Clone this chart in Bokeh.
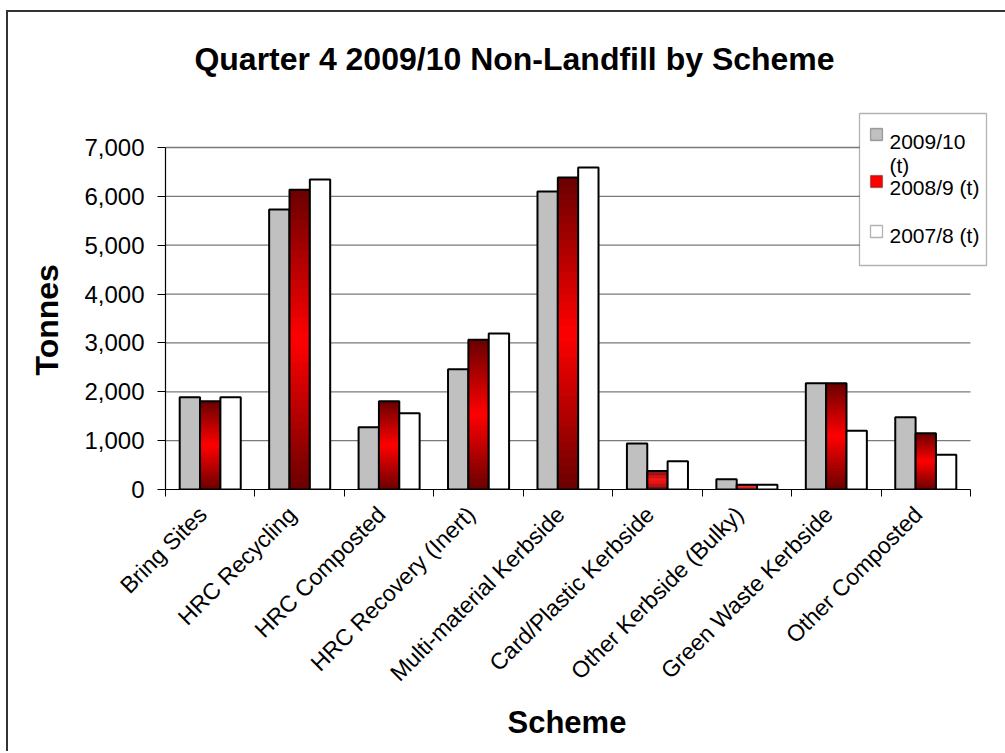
import math
from bokeh.plotting import figure
from bokeh.layouts import column
from bokeh.models import Range1d, FixedTicker, NumeralTickFormatter, BoxAnnotation, Label, Title
from bokeh.embed import file_html
from bokeh.resources import INLINE

# ---------------- data ----------------
categories = ["Bring Sites", "HRC Recycling", "HRC Composted", "HRC Recovery (Inert)",
              "Multi-material Kerbside", "Card/Plastic Kerbside", "Other Kerbside (Bulky)",
              "Green Waste Kerbside", "Other Composted"]
series_names = ["2009/10\n(t)", "2008/9 (t)", "2007/8 (t)"]
t_2009_10 = [1890, 5730, 1275, 2460, 6100, 940, 210, 2175, 1480]
t_2008_9 = [1805, 6135, 1805, 3065, 6385, 380, 95, 2175, 1150]
t_2007_8 = [1890, 6345, 1560, 3195, 6590, 580, 95, 1200, 710]
y_ticks = [0, 1000, 2000, 3000, 4000, 5000, 6000, 7000]
title_text = "Quarter 4 2009/10 Non-Landfill by Scheme"
y_title = "Tonnes"
x_title = "Scheme"

# ---------------- layout (page pixels) ----------------
OX, OY = 8, 12                 # canvas origin on the page (after css margin + border)
W, H = 997, 739
AX_L, AX_R, AX_T, AX_B = 165, 970, 147, 489   # axes extents on the page
NCAT = len(categories)
YMAX = 7000
FRAME_R = OX + W               # frame reaches the right edge of the canvas
FRAME_T = OY                   # and the top edge

def dx(px):
    return (px - AX_L) / (AX_R - AX_L) * NCAT

def dy(py):
    return (AX_B - py) / (AX_B - AX_T) * YMAX

FONT = "Liberation Sans"

p = figure(width=W, height=H, output_backend="svg", toolbar_location=None,
           x_range=Range1d(0, dx(FRAME_R)), y_range=Range1d(0, dy(FRAME_T)),
           min_border_left=AX_L - OX, min_border_top=0, min_border_right=0,
           min_border_bottom=H - (AX_B - OY))
p.outline_line_color = None
p.background_fill_color = "white"
p.border_fill_color = "white"
p.xgrid.visible = False
p.ygrid.visible = False

# gridlines (horizontal, only across the category span)
p.segment(x0=0, x1=NCAT, y0=y_ticks[1:], y1=y_ticks[1:], line_color="#7a7a7a", line_width=1.3)

# y axis
ya = p.yaxis[0]
ya.bounds = (0, YMAX)
ya.ticker = FixedTicker(ticks=y_ticks)
ya.formatter = NumeralTickFormatter(format="0,0")
ya.axis_line_color = "black"
ya.axis_line_width = 1.2
ya.major_tick_line_color = "black"
ya.major_tick_out = 8
ya.major_tick_in = 0
ya.minor_tick_line_color = None
ya.major_label_text_font = FONT
ya.major_label_text_font_size = "24px"
ya.major_label_text_color = "black"
ya.major_label_standoff = 13

# x axis
xa = p.xaxis[0]
xa.bounds = (0, NCAT)
centers = [i + 0.5 for i in range(NCAT)]
label_pos = [round(c - 0.085, 4) for c in centers]   # label anchors nudged to match the reference
xa.ticker = FixedTicker(ticks=label_pos, minor_ticks=list(range(NCAT + 1)))
xa.major_label_overrides = {c: name for c, name in zip(label_pos, categories)}
xa.major_tick_line_color = None
xa.major_tick_out = 0
xa.major_tick_in = 0
xa.minor_tick_line_color = "black"
xa.minor_tick_out = 7
xa.minor_tick_in = 0
xa.axis_line_color = "black"
xa.axis_line_width = 1.2
xa.major_label_orientation = math.pi / 4
xa.major_label_standoff = 14
xa.major_label_text_font = FONT
xa.major_label_text_font_size = "23px"
xa.major_label_text_color = "black"

# axis titles as side-panel titles (positioned along the axis span)
p.add_layout(Title(text=y_title, align="left", offset=AX_B - 375, vertical_align="top",
                   standoff=30, text_font=FONT, text_font_style="bold",
                   text_font_size="32px", text_color="black"), "left")
p.add_layout(Title(text=x_title, align="left", offset=507 - AX_L, vertical_align="top",
                   standoff=12, text_font=FONT, text_font_style="bold",
                   text_font_size="31px", text_color="black"), "below")

# ---------------- bars ----------------
bw = 0.2275
OUT = dict(line_color="black", line_width=2)

def lefts(k):
    return [c + (k - 1) * bw - bw / 2 for c in centers]

def rights(k):
    return [c + (k - 1) * bw + bw / 2 for c in centers]

# series 1: grey
p.quad(left=lefts(0), right=rights(0), bottom=0, top=t_2009_10, fill_color="#c0c0c0", **OUT)

# series 2: red vertical gradient (dark at both ends, bright red in the middle)
N = 40
dark = (105, 0, 0)
bright = (255, 0, 0)
gl, gr, gb, gt, gc = [], [], [], [], []
for l, r, v in zip(lefts(1), rights(1), t_2008_9):
    for k in range(N):
        t = (k + 0.5) / N
        d = abs(t - 0.5) * 2
        col = tuple(int(round(b + (a - b) * d)) for a, b in zip(dark, bright))
        gl.append(l)
        gr.append(r)
        gb.append(v * k / N)
        gt.append(min(v, v * (k + 1.6) / N))
        gc.append("#%02x%02x%02x" % col)
p.quad(left=gl, right=gr, bottom=gb, top=gt, fill_color=gc, line_color=None)
p.quad(left=lefts(1), right=rights(1), bottom=0, top=t_2008_9, fill_color=None, **OUT)

# series 3: white
p.quad(left=lefts(2), right=rights(2), bottom=0, top=t_2007_8, fill_color="white", **OUT)

# ---------------- title ----------------
p.add_layout(Label(x=dx(514), y=dy(58), text=title_text, text_align="center",
                   text_baseline="middle", text_font=FONT, text_font_style="bold",
                   text_font_size="32px", text_color="black"))

# ---------------- legend ----------------
p.add_layout(BoxAnnotation(left=dx(859), right=dx(986), top=dy(113), bottom=dy(265),
                           fill_color="white", fill_alpha=1.0, line_color="black",
                           line_width=1.3))
leg_fill = ["#c0c0c0", "#ff0000", "white"]
sq_cy = [134, 181, 231]
txt_base = [[141, 165], [187], [235]]
for name, fc, cy, bases in zip(series_names, leg_fill, sq_cy, txt_base):
    p.add_layout(BoxAnnotation(left=dx(870), right=dx(882), top=dy(cy - 6), bottom=dy(cy + 6),
                               fill_color=fc, fill_alpha=1.0, line_color="black", line_width=1.3))
    for line, b in zip(name.split("\n"), bases):
        p.add_layout(Label(x=dx(889), y=dy(b), text=line, text_align="left",
                           text_baseline="alphabetic", text_font=FONT,
                           text_font_size="21px", text_color="black"))

# outer chart border (left and top edges only, as in the cropped original)
root = column(p, styles={"margin-left": "6px", "margin-top": "10px",
                         "border-left": "2px solid #333333", "border-top": "2px solid #333333"})

open("out.html", "w").write(file_html(root, INLINE))
